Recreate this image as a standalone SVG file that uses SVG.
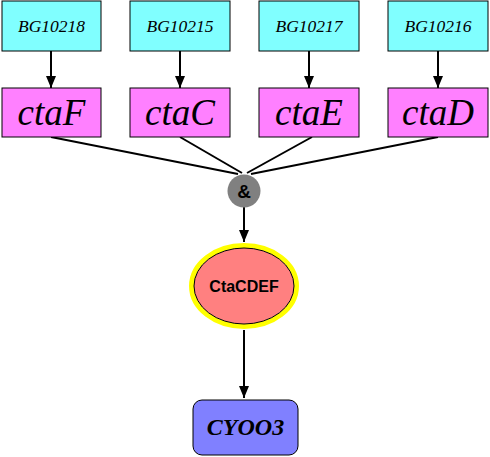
<svg xmlns="http://www.w3.org/2000/svg" width="490" height="457" viewBox="0 0 490 457">
<style>
.bg{fill:#80ffff;stroke:#000;stroke-width:1}
.gene{fill:#ff80ff;stroke:#000;stroke-width:1}
.t1{font-family:"Liberation Serif",serif;font-style:italic;font-size:17.5px;fill:#000;text-anchor:middle}
.t2{font-family:"Liberation Serif",serif;font-style:italic;font-size:37px;fill:#000;text-anchor:middle}
.e{stroke:#000;stroke-width:2;fill:none}
</style>
<defs>
<marker id="a" viewBox="0 0 12 10" refX="12" refY="5" markerWidth="12" markerHeight="10" orient="auto" markerUnits="userSpaceOnUse">
<path d="M0,0 L12,5 L0,10 z" fill="#000"/>
</marker>
</defs>
<g id="connectors">
<line class="e" x1="51" y1="51" x2="51" y2="88" marker-end="url(#a)"/>
<line class="e" x1="180" y1="51" x2="180" y2="88" marker-end="url(#a)"/>
<line class="e" x1="309" y1="51" x2="309" y2="88" marker-end="url(#a)"/>
<line class="e" x1="438" y1="51" x2="438" y2="88" marker-end="url(#a)"/>
<line class="e" x1="51" y1="137" x2="238" y2="174"/>
<line class="e" x1="180" y1="137" x2="242" y2="173"/>
<line class="e" x1="312" y1="137" x2="247" y2="173"/>
<line class="e" x1="438" y1="137" x2="251" y2="174"/>
<line class="e" x1="244" y1="207" x2="244" y2="242" marker-end="url(#a)"/>
<line class="e" x1="244" y1="330" x2="244" y2="398" marker-end="url(#a)"/>
</g>
<g id="BG10218"><rect class="bg" x="2" y="1" width="99" height="50"/><text class="t1" x="51.5" y="32">BG10218</text></g>
<g id="BG10215"><rect class="bg" x="130" y="1" width="100" height="50"/><text class="t1" x="180" y="32">BG10215</text></g>
<g id="BG10217"><rect class="bg" x="259" y="1" width="100" height="50"/><text class="t1" x="309" y="32">BG10217</text></g>
<g id="BG10216"><rect class="bg" x="388" y="1" width="100" height="50"/><text class="t1" x="438" y="32">BG10216</text></g>
<g id="ctaF"><rect class="gene" x="2" y="88" width="99" height="49"/><text class="t2" x="51.5" y="125">ctaF</text></g>
<g id="ctaC"><rect class="gene" x="130" y="88" width="100" height="49"/><text class="t2" x="180" y="125">ctaC</text></g>
<g id="ctaE"><rect class="gene" x="259" y="88" width="100" height="49"/><text class="t2" x="309" y="125">ctaE</text></g>
<g id="ctaD"><rect class="gene" x="388" y="88" width="100" height="49"/><text class="t2" x="438" y="125">ctaD</text></g>
<g id="and"><circle cx="244" cy="191" r="16.5" fill="#808080"/><text x="244" y="197.5" font-family="Liberation Sans,sans-serif" font-weight="bold" font-size="19" text-anchor="middle">&amp;</text></g>
<g id="CtaCDEF">
<ellipse cx="244" cy="286" rx="52.5" ry="40.5" fill="none" stroke="#ffff00" stroke-width="5"/>
<ellipse cx="244" cy="286" rx="50" ry="38" fill="#ff8080" stroke="#000" stroke-width="1"/>
<text x="244" y="292" font-family="Liberation Sans,sans-serif" font-weight="bold" font-size="16" text-anchor="middle">CtaCDEF</text>
</g>
<g id="CYOO3"><rect x="193" y="400" width="105" height="55" rx="9" fill="#8080ff" stroke="#000" stroke-width="1"/><text x="245.5" y="435" font-family="Liberation Serif,serif" font-style="italic" font-weight="bold" font-size="24" text-anchor="middle">CYOO3</text></g>
</svg>
